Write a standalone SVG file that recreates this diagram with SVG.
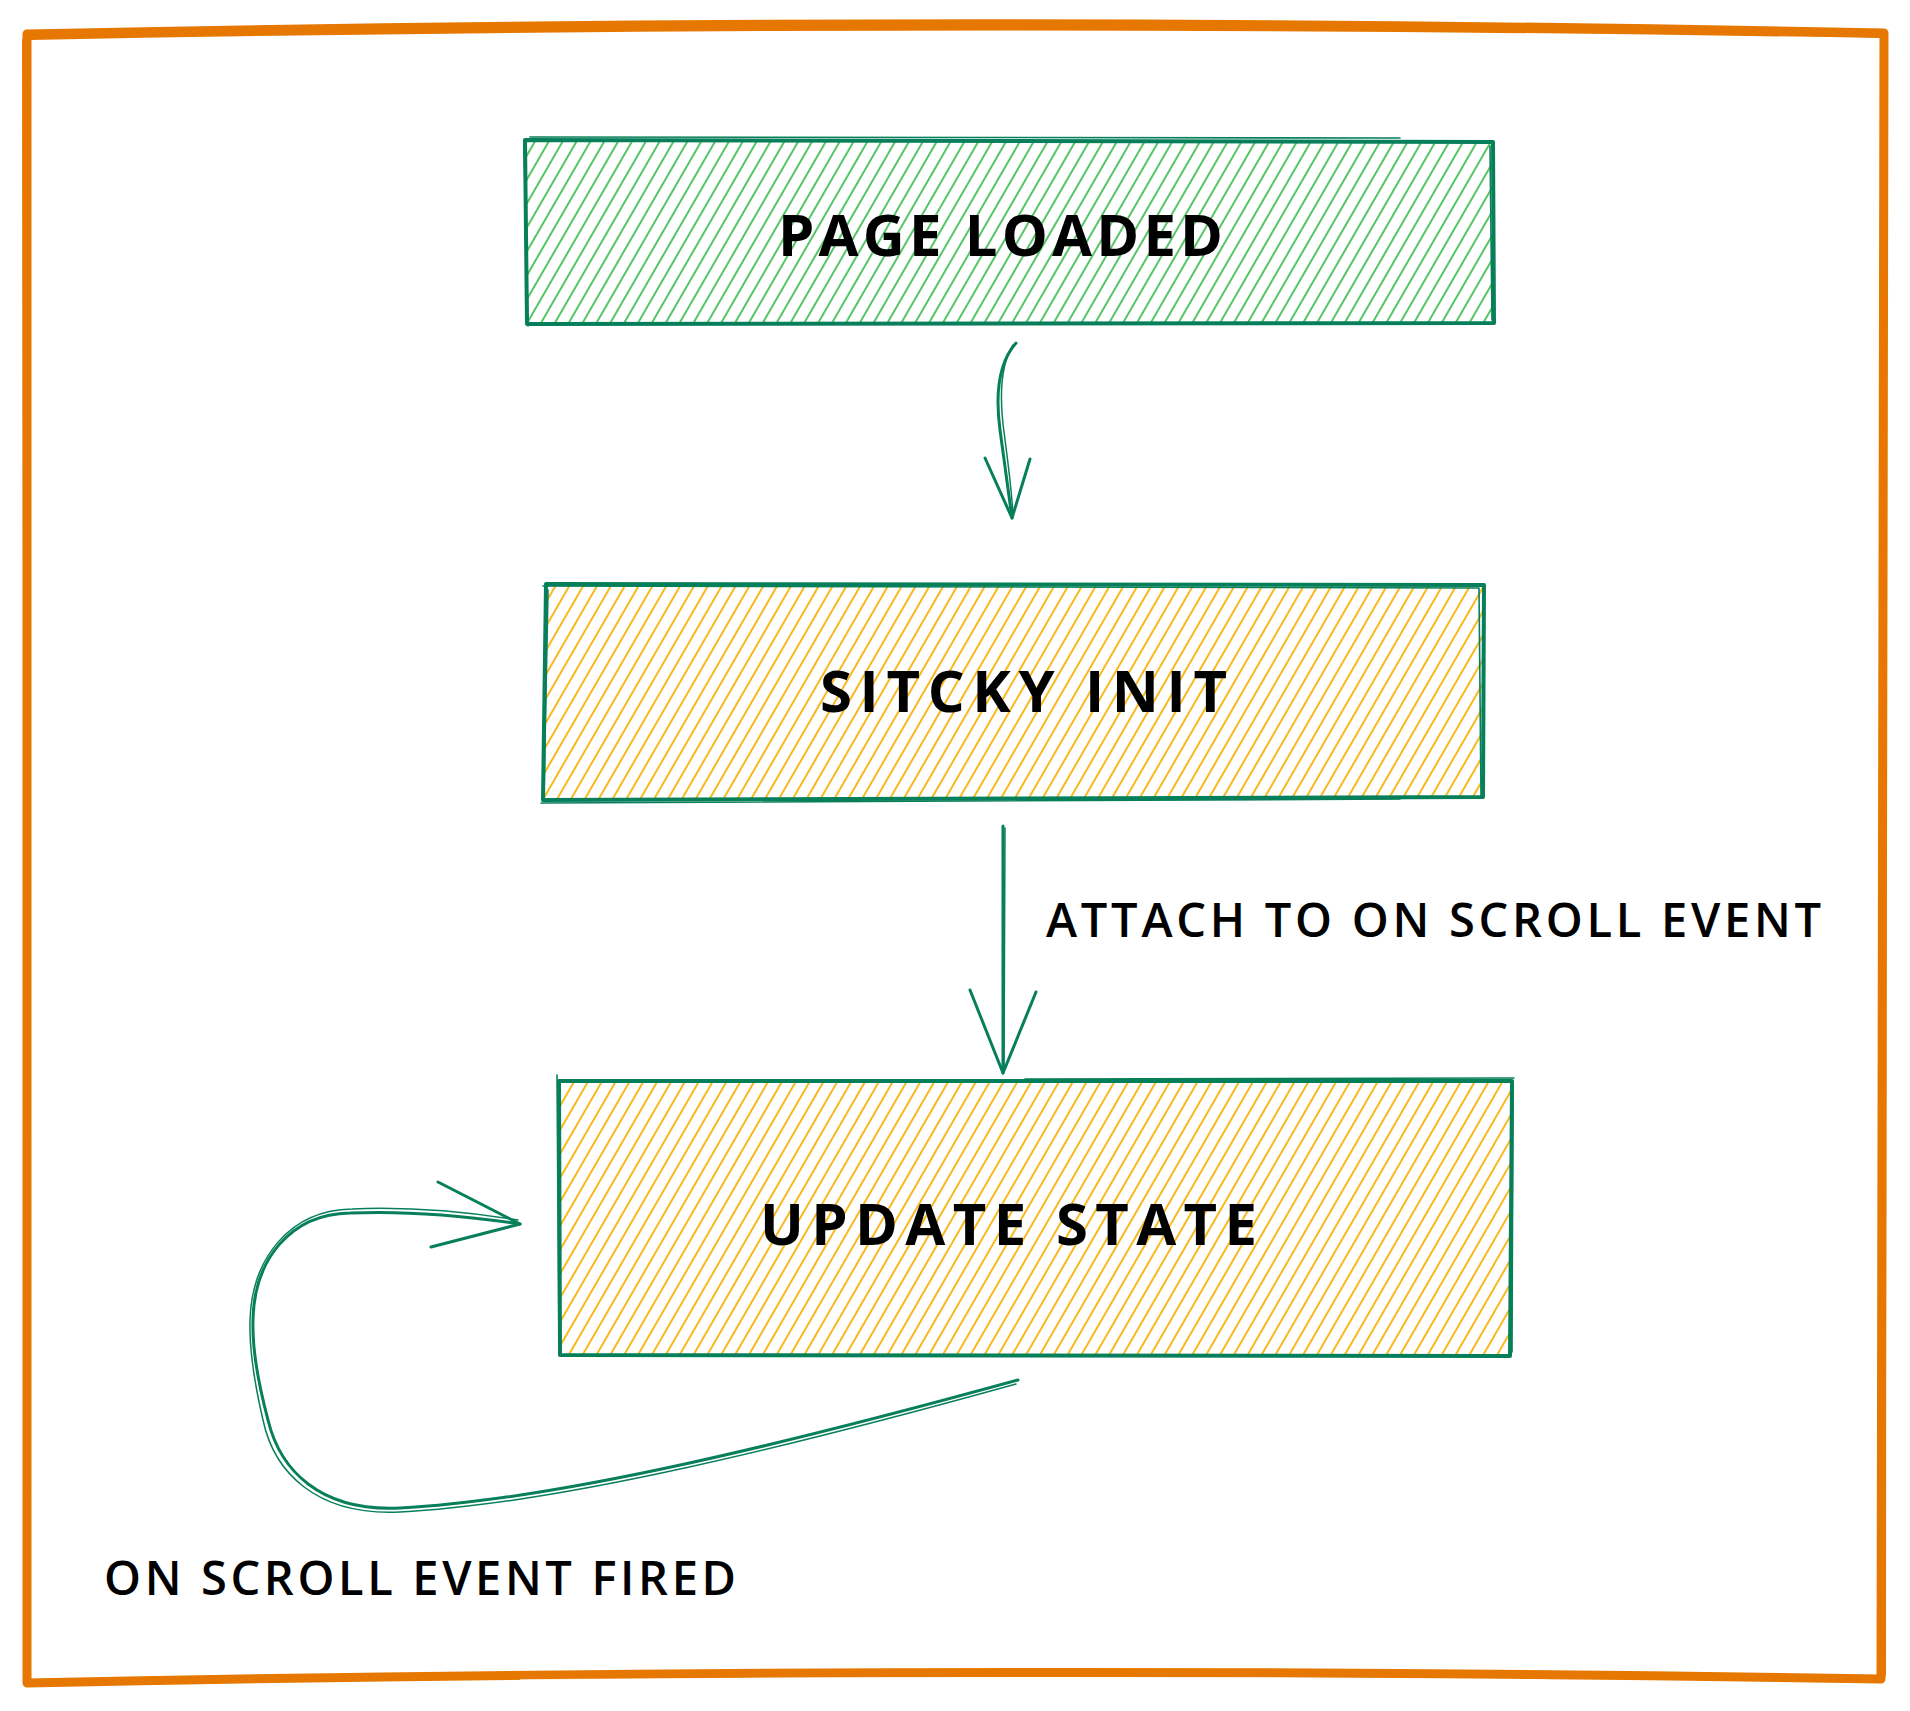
<svg xmlns="http://www.w3.org/2000/svg" width="1910" height="1711" viewBox="0 0 1910 1711">
  <defs>
    <pattern id="hatchGreen" patternUnits="userSpaceOnUse" width="12" height="24" patternTransform="rotate(30)">
      <line x1="6" y1="0" x2="6" y2="24" stroke="#40c057" stroke-width="1.8"/>
    </pattern>
    <pattern id="hatchOrange" patternUnits="userSpaceOnUse" width="12" height="24" patternTransform="rotate(30)">
      <line x1="6" y1="0" x2="6" y2="24" stroke="#fab005" stroke-width="1.8"/>
    </pattern>
  </defs>
  <style>
    .edge { fill: none; stroke: #087f5b; stroke-width: 4; stroke-linecap: round; stroke-linejoin: round; }
    .edge2 { fill: none; stroke: #087f5b; stroke-width: 1.6; stroke-linecap: round; stroke-linejoin: round; }
    .frame { fill: none; stroke: #e67700; stroke-width: 9; stroke-linecap: round; stroke-linejoin: round; }
    .frame2 { fill: none; stroke: #e67700; stroke-width: 4; stroke-linecap: round; }
    .conn { fill: none; stroke: #087f5b; stroke-width: 3; stroke-linecap: round; stroke-linejoin: round; }
    .conn2 { fill: none; stroke: #087f5b; stroke-width: 1.5; stroke-linecap: round; stroke-linejoin: round; }
    .title { font-family: "Open Sans", "Liberation Sans", sans-serif; font-weight: 700; font-size: 58px; fill: #000; }
    .label { font-family: "Open Sans", "Liberation Sans", sans-serif; font-weight: 600; font-size: 47px; fill: #000; }
  </style>
  <rect width="1910" height="1711" fill="#ffffff"/>

  <g id="frame">
    <path class="frame" d="M27,34 Q950,14 1884,33 L1881,1679 Q950,1664 27,1683 Z"/>
    <path class="frame2" d="M30,38 Q950,20 1880,36 M1885,38 L1884,1675 M24,40 L27,1680"/>
    <path d="M520,1680 Q950,1676 1545,1680" fill="none" stroke="#ffffff" stroke-width="1.5" opacity="0.8"/>
  </g>

  <g id="node-page-loaded">
    <rect x="527" y="141" width="966" height="182" fill="url(#hatchGreen)"/>
    <path class="edge" d="M525,140 L1493,142 L1494,323 L527,324 Z"/>
    <path class="edge2" d="M530,137 L1400,138 M1490,146 L1492,320 M524,145 L528,326"/>
    <text class="title" x="778" y="256" textLength="445">PAGE LOADED</text>
  </g>

  <g id="node-sticky-init">
    <rect x="545" y="585" width="939" height="214" fill="url(#hatchOrange)"/>
    <path class="edge" d="M546,584 L1484,585 L1483,797 L543,800 Z"/>
    <path class="edge2" d="M543,586 L1479,588 L1481,796 M541,803 L1400,799 M548,590 L544,796"/>
    <text class="title" x="820" y="712" textLength="407">SITCKY INIT</text>
  </g>

  <g id="node-update-state">
    <rect x="559" y="1082" width="952" height="274" fill="url(#hatchOrange)"/>
    <path class="edge" d="M559,1081 L1512,1081 L1510,1356 L560,1355 Z"/>
    <path class="edge2" d="M557,1075 L559,1350 M1025,1079 L1514,1078 M1513,1086 L1512,1352"/>
    <text class="title" x="760" y="1245" textLength="497">UPDATE STATE</text>
  </g>

  <g id="connectors">
    <g id="arrow-loaded-to-init">
      <path class="conn" d="M1016,343 Q992,370 1000,430 T1012,518"/>
      <path class="conn2" d="M1013,345 Q996,372 1004,432 T1013,516"/>
      <path class="conn" d="M985,458 L1012,518 L1030,459"/>
    </g>
    <g id="arrow-init-to-update">
      <path class="conn" d="M1003,826 L1003,1073"/>
      <path class="conn2" d="M1005,828 L1004,1070"/>
      <path class="conn" d="M970,990 L1003,1073 L1036,992"/>
      <text class="label" x="1046" y="937" textLength="775">ATTACH TO ON SCROLL EVENT</text>
    </g>
    <g id="arrow-update-loop">
      <path class="conn" d="M1018,1380 C800,1440 560,1500 400,1508 C320,1512 280,1470 268,1420 C260,1390 252,1350 253,1320 C254,1260 290,1214 350,1213 C420,1210 480,1218 520,1224"/>
      <path class="conn2" d="M1016,1384 C800,1444 560,1504 400,1512 C316,1516 274,1472 263,1420 C256,1390 249,1350 250,1320 C252,1258 290,1210 352,1209 C420,1206 480,1214 518,1220"/>
      <path class="conn" d="M438,1182 L520,1224 L431,1247"/>
      <text class="label" x="104" y="1595" textLength="632">ON SCROLL EVENT FIRED</text>
    </g>
  </g>
</svg>
